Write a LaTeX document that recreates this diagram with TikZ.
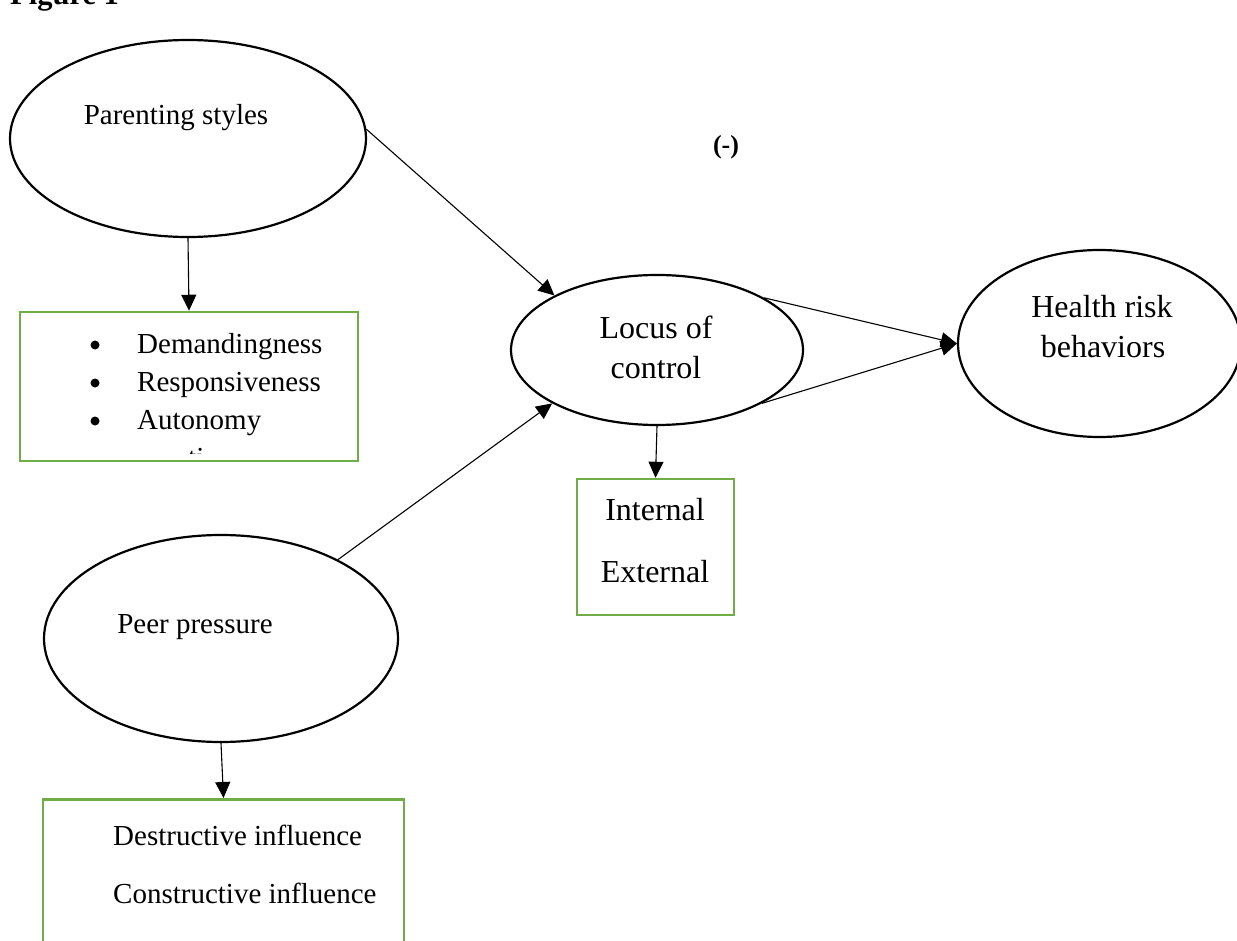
\documentclass[tikz,border=0pt]{standalone}
\usepackage{fontspec}
\setmainfont{Liberation Serif}
\usetikzlibrary{arrows.meta,shapes.geometric}
\definecolor{boxgreen}{RGB}{112,173,71}
\begin{document}
\begin{tikzpicture}[x=1pt,y=-1pt,
 ell/.style={draw,ellipse,line width=2.2pt,inner sep=0pt},
 grbox/.style={draw=boxgreen,line width=2.5pt,rectangle,inner sep=0pt},
 txt/.style={font=\fontsize{29}{35}\selectfont,inner sep=0pt,anchor=base},
 big/.style={font=\fontsize{32}{38}\selectfont,inner sep=0pt,anchor=base},
 bul/.style={circle,fill,inner sep=0pt,minimum size=9pt},
 arr/.style={-{Triangle[length=16pt,width=15pt]},line width=1.1pt}]
\useasboundingbox (0,0) rectangle (1237,941);
% title (cut off at top)
\node[font=\fontsize{30.5}{36}\selectfont\bfseries,inner sep=0pt,anchor=base west] (fig) at (10,5) {Figure 1};
% parenting styles
\node[ell,minimum width=356pt,minimum height=197pt] (ps) at (188,138.5) {};
\node[txt] (pst) at (176,125) {Parenting styles};
\node[grbox,minimum width=338pt,minimum height=149pt] (pbox) at (189,386.5) {};
\node[bul] (b1) at (95,345) {};
\node[bul] (b2) at (95,383) {};
\node[bul] (b3) at (95,421) {};
\node[txt,anchor=base west] (d1) at (137,353) {Demandingness};
\node[txt,anchor=base west] (d2) at (137,391) {Responsiveness};
\node[txt,anchor=base west] (d3) at (137,429) {Autonomy};
\begin{scope}
\clip (22,314) rectangle (356,453);
\node[txt,anchor=base west] (cut) at (188,467) {ti};
\end{scope}
% locus of control
\node[ell,minimum width=292pt,minimum height=150pt] (lc) at (657,350) {};
\node[big] (lct1) at (656,338) {Locus of};
\node[big] (lct2) at (656,378) {control};
\node[grbox,minimum width=157pt,minimum height=136pt] (lbox) at (655.5,547) {};
\node[big] (in) at (655,520) {Internal};
\node[big] (ex) at (655,582) {External};
% health risk
\node[ell,minimum width=283pt,minimum height=187pt] (hr) at (1099.5,343.5) {};
\node[big] (hrt1) at (1102,318) {Health risk};
\node[big] (hrt2) at (1103,357) {behaviors};
% peer pressure
\node[ell,minimum width=354pt,minimum height=207pt] (pp) at (221,638.5) {};
\node[txt] (ppt) at (195,633) {Peer pressure};
\node[grbox,minimum width=361pt,minimum height=200pt,anchor=north] (pbox2) at (223.5,798) {};
\node[txt,anchor=base west] (de) at (113,845) {Destructive influence};
\node[txt,anchor=base west] (co) at (113,903) {Constructive influence};
% sign
\node[font=\fontsize{26}{30}\selectfont\bfseries,inner sep=0pt,anchor=base] (sign) at (726,154) {(-)};
% connectors
\draw[arr] (ps.south) -- (pbox.north);
\draw[arr] (ps.3.5) -- (lc.152.6);
\draw[arr] (pp.34.4) -- (lc.207.5);
\draw[arr] (lc.26.6) -- (hr.180);
\draw[arr] (lc.-27.2) -- (hr.180);
\draw[arr] (lc.south) -- (lbox.north);
\draw[arr] (pp.south) -- (pbox2.north);
\end{tikzpicture}
\end{document}
